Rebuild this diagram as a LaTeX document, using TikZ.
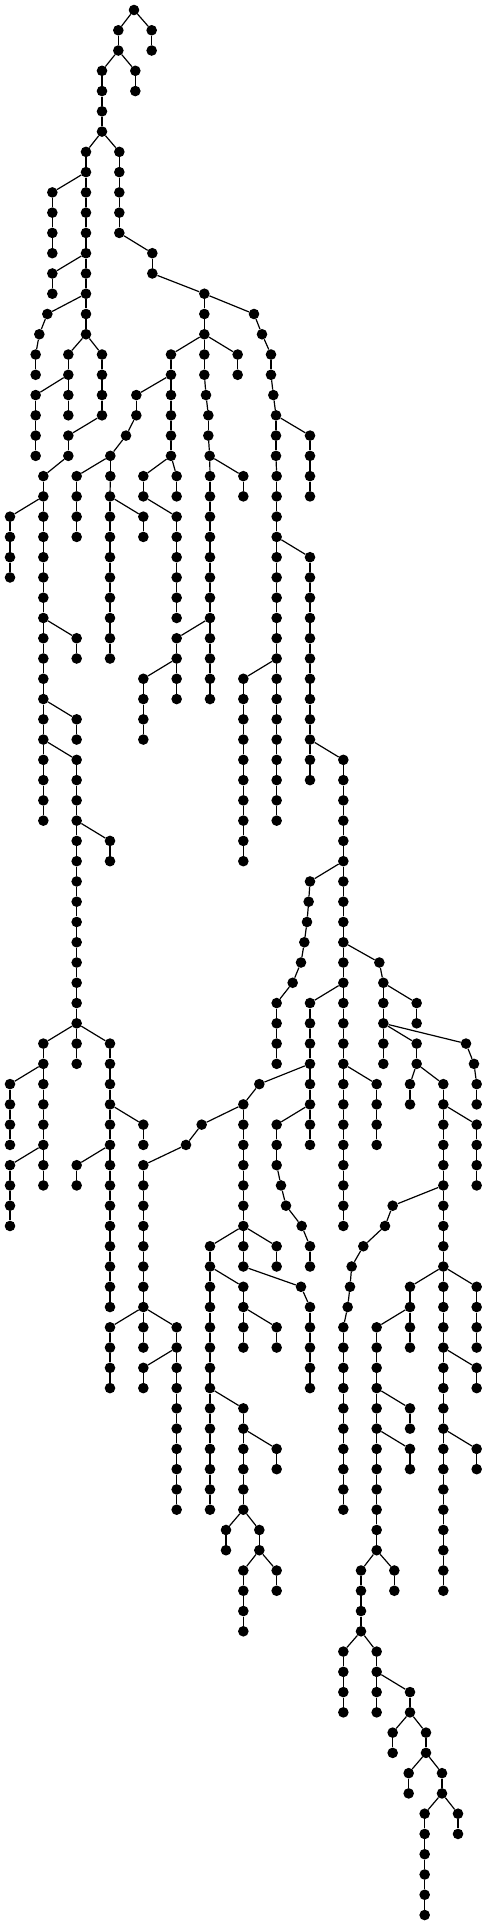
\documentclass[tikz,border=0pt]{standalone}
\begin{document}
\begin{tikzpicture}[x=1pt,y=-1pt,
  dot/.style={circle,fill=black,draw=none,inner sep=0pt,minimum size=10.6pt},
  edge/.style={draw=black,line width=1.2pt}]
\useasboundingbox (0,0) rectangle (487,1925);
\node[dot] (n402d0) at ({402/3},10) {};
\foreach \cx/\cd/\cp in {355/1/402,455/1/402,
355/2/355,455/2/455,
306/3/355,406/3/355,
306/4/306,406/4/406,
306/5/306,
306/6/306,
258/7/306,358/7/306,
258/8/258,358/8/358,
157/9/258,258/9/258,358/9/358,
157/10/157,258/10/258,358/10/358,
157/11/157,258/11/258,358/11/358,
157/12/157,258/12/258,457/12/358,
157/13/258,258/13/258,457/13/457,
157/14/157,258/14/258,613/14/457,
142/15/258,258/15/258,613/15/613,762/15/613,
118/16/142,258/16/258,613/16/613,786/16/762,
107/17/118,205/17/258,306/17/258,513/17/613,613/17/613,713/17/613,813/17/786,
107/18/107,205/18/205,306/18/306,513/18/513,613/18/613,713/18/713,813/18/813,
107/19/205,205/19/205,306/19/306,409/19/513,513/19/513,618/19/613,820/19/813,
107/20/107,205/20/205,306/20/306,409/20/409,513/20/513,625/20/618,828/20/820,
107/21/107,205/21/306,378/21/409,513/21/513,625/21/625,828/21/828,930/21/828,
107/22/107,205/22/205,331/22/378,513/22/513,629/22/625,828/22/828,930/22/930,
130/23/205,230/23/331,331/23/331,430/23/513,530/23/513,630/23/629,730/23/629,830/23/828,930/23/930,
130/24/130,230/24/230,330/24/331,430/24/430,530/24/530,630/24/630,730/24/730,830/24/830,930/24/930,
30/25/130,130/25/130,230/25/230,330/25/330,430/25/330,530/25/430,630/25/630,830/25/830,
30/26/30,130/26/130,230/26/230,330/26/330,430/26/430,530/26/530,630/26/630,830/26/830,
30/27/30,130/27/130,330/27/330,530/27/530,630/27/630,830/27/830,930/27/830,
30/28/30,130/28/130,330/28/330,530/28/530,630/28/630,830/28/830,930/28/930,
130/29/130,330/29/330,530/29/530,630/29/630,830/29/830,930/29/930,
130/30/130,330/30/330,530/30/530,630/30/630,830/30/830,930/30/930,
130/31/130,230/31/130,330/31/330,530/31/630,630/31/630,830/31/830,930/31/930,
130/32/130,230/32/230,330/32/330,530/32/530,630/32/630,830/32/830,930/32/930,
130/33/130,430/33/530,530/33/530,630/33/630,730/33/830,830/33/830,930/33/930,
130/34/130,430/34/430,530/34/530,630/34/630,730/34/730,830/34/830,930/34/930,
130/35/130,230/35/130,430/35/430,730/35/730,830/35/830,930/35/930,
130/36/130,230/36/230,430/36/430,730/36/730,830/36/830,930/36/930,
130/37/130,230/37/130,730/37/730,830/37/830,930/37/930,1030/37/930,
130/38/130,230/38/230,730/38/730,830/38/830,930/38/930,1030/38/1030,
130/39/130,230/39/230,730/39/730,830/39/830,1030/39/1030,
130/40/130,230/40/230,730/40/730,830/40/830,1030/40/1030,
230/41/230,330/41/230,730/41/730,1030/41/1030,
230/42/230,330/42/330,730/42/730,1030/42/1030,
230/43/230,930/43/1030,1030/43/1030,
230/44/230,926/44/930,1030/44/1030,
230/45/230,921/45/926,1030/45/1030,
230/46/230,913/46/921,1030/46/1030,
230/47/230,903/47/913,1030/47/1030,1138/47/1030,
230/48/230,878/48/903,1030/48/1030,1150/48/1138,
230/49/230,830/49/878,930/49/1030,1030/49/1030,1150/49/1150,1250/49/1150,
230/50/230,830/50/830,930/50/930,1030/50/1030,1150/50/1150,1250/50/1250,
130/51/230,230/51/230,330/51/230,830/51/830,930/51/930,1030/51/1030,1150/51/1150,1250/51/1150,1398/51/1150,
130/52/130,230/52/230,330/52/330,830/52/830,930/52/930,1030/52/1030,1150/52/1150,1250/52/1250,1422/52/1398,
30/53/130,130/53/130,330/53/330,778/53/930,930/53/930,1030/53/1030,1130/53/1030,1230/53/1250,1330/53/1250,1430/53/1422,
30/54/30,130/54/130,330/54/330,730/54/778,930/54/930,1030/54/1030,1130/54/1130,1230/54/1230,1330/54/1330,1430/54/1430,
30/55/30,130/55/130,330/55/330,430/55/330,605/55/730,730/55/730,830/55/930,930/55/930,1030/55/1030,1130/55/1130,1330/55/1330,1430/55/1330,
30/56/30,130/56/130,330/56/330,430/56/430,558/56/605,730/56/730,830/56/830,930/56/930,1030/56/1030,1130/56/1130,1330/56/1330,1430/56/1430,
30/57/130,130/57/130,230/57/330,330/57/330,430/57/558,730/57/730,830/57/830,1030/57/1030,1330/57/1330,1430/57/1430,
30/58/30,130/58/130,230/58/230,330/58/330,430/58/430,730/58/730,843/58/830,1030/58/1030,1330/58/1330,1430/58/1430,
30/59/30,330/59/330,430/59/430,730/59/730,858/59/843,1030/59/1030,1178/59/1330,1330/59/1330,
30/60/30,330/60/330,430/60/430,730/60/730,905/60/858,1030/60/1030,1155/60/1178,1330/60/1330,
330/61/330,430/61/430,630/61/730,730/61/730,830/61/730,930/61/905,1090/61/1155,1330/61/1330,
330/62/330,430/62/430,630/62/630,730/62/730,830/62/830,930/62/930,1055/62/1090,1330/62/1330,
330/63/330,430/63/430,630/63/630,730/63/630,903/63/730,1050/63/1055,1230/63/1330,1330/63/1330,1430/63/1330,
330/64/330,430/64/430,630/64/630,730/64/730,930/64/903,1043/64/1050,1230/64/1230,1330/64/1330,1430/64/1430,
330/65/430,430/65/430,530/65/430,630/65/630,730/65/730,830/65/730,930/65/930,1030/65/1043,1130/65/1230,1230/65/1230,1330/65/1330,1430/65/1430,
330/66/330,430/66/430,530/66/530,630/66/630,730/66/730,830/66/830,930/66/930,1030/66/1030,1130/66/1130,1230/66/1230,1330/66/1330,1430/66/1430,
330/67/330,430/67/530,530/67/530,630/67/630,930/67/930,1030/67/1030,1130/67/1130,1330/67/1330,1430/67/1330,
330/68/330,430/68/430,530/68/530,630/68/630,930/68/930,1030/68/1030,1130/68/1130,1330/68/1330,1430/68/1430,
530/69/530,630/69/630,730/69/630,1030/69/1030,1130/69/1130,1230/69/1130,1330/69/1330,
530/70/530,630/70/630,730/70/730,1030/70/1030,1130/70/1130,1230/70/1230,1330/70/1330,
530/71/530,630/71/630,730/71/730,830/71/730,1030/71/1030,1130/71/1130,1230/71/1130,1330/71/1330,1430/71/1330,
530/72/530,630/72/630,730/72/730,830/72/830,1030/72/1030,1130/72/1130,1230/72/1230,1330/72/1330,1430/72/1430,
530/73/530,630/73/630,730/73/730,1030/73/1030,1130/73/1130,1330/73/1330,
530/74/530,630/74/630,730/74/730,1030/74/1030,1130/74/1130,1330/74/1330,
678/75/730,778/75/730,1130/75/1130,1330/75/1330,
678/76/678,778/76/778,1130/76/1130,1330/76/1330,
730/77/778,830/77/778,1083/77/1130,1183/77/1130,1330/77/1330,
730/78/730,830/78/830,1083/78/1083,1183/78/1183,1330/78/1330,
730/79/730,1083/79/1083,
730/80/730,1083/80/1083,
1030/81/1083,1130/81/1083,
1030/82/1030,1130/82/1130,
1030/83/1030,1130/83/1130,1230/83/1130,
1030/84/1030,1130/84/1130,1230/84/1230,
1178/85/1230,1278/85/1230,
1178/86/1178,1278/86/1278,
1226/87/1278,1326/87/1278,
1226/88/1226,1326/88/1326,
1274/89/1326,1374/89/1326,
1274/90/1274,1374/90/1374,
1274/91/1274,
1274/92/1274,
1274/93/1274,
1274/94/1274}{
  \pgfmathtruncatemacro\pd{\cd-1}
  \node[dot] (n\cx d\cd) at ({\cx/3},{10+20.266*\cd}) {};
  \draw[edge] (n\cp d\pd) -- (n\cx d\cd);
}
\end{tikzpicture}
\end{document}
